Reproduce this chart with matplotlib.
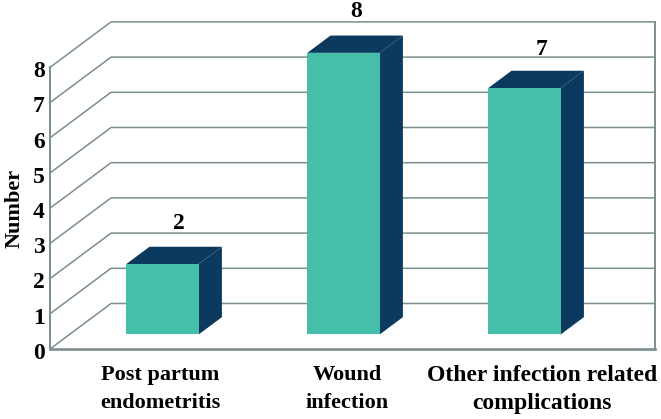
import matplotlib
matplotlib.use('Agg')
import matplotlib.pyplot as plt
from matplotlib.patches import Polygon

# Data
categories = ['Post partum\nendometritis', 'Wound\ninfection', 'Other infection related\ncomplications']
values = [2, 8, 7]
yticks = [0, 1, 2, 3, 4, 5, 6, 7, 8]

plt.rcParams['font.family'] = ['Liberation Serif', 'DejaVu Serif']
plt.rcParams['font.weight'] = 'bold'

GRID = '#7c8e8e'
FRONT = '#45bfa9'
SIDE = '#0b3a5e'

W, H = 661, 419
PX_CAT = 181.0   # pixels per category
PX_VAL = 35.2    # pixels per unit of value
X0 = 143.0       # pixel x of category 0 on the front plane
Y0 = 349.0       # pixel y of value 0 on the front plane

# oblique depth, as a shift in data units at depth=1
DX = 61 / PX_CAT
DY = 45.5 / PX_VAL


def proj(x, v, d=0.0):
    return x + d * DX, v + d * DY


fig = plt.figure(figsize=(W / 100, H / 100), dpi=100)
ax = fig.add_axes([0, 0, 1, 1])
ax.set_xlim(-X0 / PX_CAT, (W - X0) / PX_CAT)
ax.set_ylim(-(H - Y0) / PX_VAL, Y0 / PX_VAL)
ax.axis('off')

# walls and grid
left = (50 - X0) / PX_CAT
right = (655 - X0) / PX_CAT - DX
for t in yticks:
    xs, ys = zip(proj(left, t, 0), proj(left, t, 1), proj(right, t, 1))
    ax.plot(xs, ys, color=GRID, lw=1.1, zorder=1, solid_joinstyle='miter')
    ax.text(left - 5 / PX_CAT, t - 0.12, str(t), ha='right', va='center', fontsize=17)

ax.plot(*zip(proj(left, 0, 0), proj(left, yticks[-1], 0)), color=GRID, lw=1.4, zorder=1)
ax.plot(*zip(proj(right + DX, 0, 0), proj(right, yticks[-1], 1)), color=GRID, lw=1.4, zorder=1)
ax.plot(*zip(proj(left, 0, 0), proj(right + DX, 0, 0)), color=GRID, lw=1.9, zorder=1)

# bars
half = 0.2
d1, d2 = 0.32, 0.70
label_dx = [-7, -11, -6]
label_dy = [17, 17, 15]
label_x = [160, 347, 542]
for i, v in enumerate(values):
    a = proj(i - half, 0, d1)
    b = proj(i + half, 0, d1)
    c = proj(i + half, v, d1)
    e = proj(i - half, v, d1)
    b2 = proj(i + half, 0, d2)
    c2 = proj(i + half, v, d2)
    e2 = proj(i - half, v, d2)
    ax.add_patch(Polygon([b, b2, c2, c], color=SIDE, lw=0, zorder=3))
    ax.add_patch(Polygon([e, e2, c2, c], color=SIDE, lw=0, zorder=3))
    ax.add_patch(Polygon([a, b, c, e], color=FRONT, lw=0, zorder=4))
    ax.annotate(str(v), proj(i, v, d2), xytext=(label_dx[i] * 0.72, label_dy[i]), textcoords='offset points',
                ha='center', va='center', fontsize=17)
    top, bottom = categories[i].split('\n')
    size = 17 if i == 2 else 16
    ax.text((label_x[i] - X0) / PX_CAT, -(375 - Y0) / PX_VAL, top, ha='center', va='center', fontsize=size)
    ax.text((label_x[i] - X0) / PX_CAT, -(403 - Y0) / PX_VAL, bottom, ha='center', va='center', fontsize=size)

ax.text((15 - X0) / PX_CAT, (Y0 - 208) / PX_VAL, 'Number', rotation=90, ha='center', va='center', fontsize=16)

plt.savefig('out.png', dpi=100)
plt.close()
